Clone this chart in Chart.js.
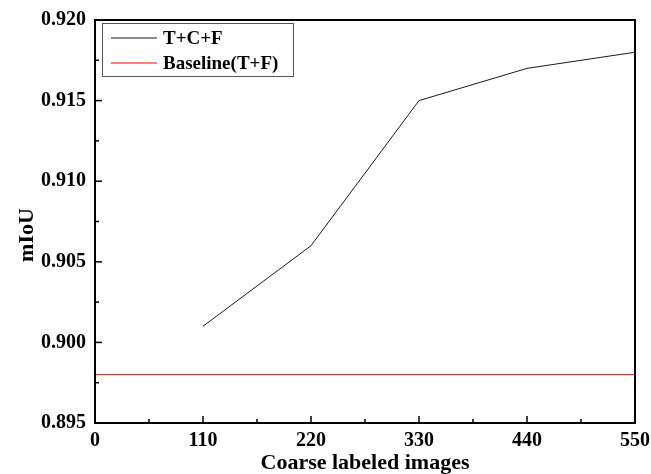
<!DOCTYPE html>
<html><head><meta charset="utf-8">
<script src="https://cdn.jsdelivr.net/npm/chart.js@4/dist/chart.umd.min.js"></script>
<style>html,body{margin:0;padding:0;background:#fff}#wrap{width:651px;height:474px}</style>
</head><body><div id="wrap"><canvas id="c" width="651" height="474"></canvas></div>
<script>
const xValues = [110, 220, 330, 440, 550];
const tcfValues = [0.901, 0.906, 0.915, 0.917, 0.918];
const baselineX = [0, 550];
const baselineValues = [0.898, 0.898];
const seriesNames = ['T+C+F', 'Baseline(T+F)'];
const xTitle = 'Coarse labeled images';
const yTitle = 'mIoU';

const FONT = '"Liberation Serif", "Times New Roman", serif';

const framePlugin = {
  id: 'frame',
  afterDatasetsDraw(chart) {
    const {ctx, chartArea: a, scales} = chart;
    ctx.save();
    ctx.strokeStyle = '#000';
    ctx.lineWidth = 1.5;
    const xs = scales.x, ys = scales.y;
    xs.ticks.forEach((t, i) => {
      const px = xs.getPixelForValue(t.value);
      ctx.beginPath(); ctx.moveTo(px, a.bottom); ctx.lineTo(px, a.bottom - 7); ctx.stroke();
      if (i < xs.ticks.length - 1) {
        const mv = (t.value + xs.ticks[i + 1].value) / 2;
        const mx = xs.getPixelForValue(mv);
        ctx.beginPath(); ctx.moveTo(mx, a.bottom); ctx.lineTo(mx, a.bottom - 4); ctx.stroke();
      }
    });
    ys.ticks.forEach((t, i) => {
      const py = ys.getPixelForValue(t.value);
      ctx.beginPath(); ctx.moveTo(a.left, py); ctx.lineTo(a.left + 7, py); ctx.stroke();
      if (i < ys.ticks.length - 1) {
        const mv = (t.value + ys.ticks[i + 1].value) / 2;
        const my = ys.getPixelForValue(mv);
        ctx.beginPath(); ctx.moveTo(a.left, my); ctx.lineTo(a.left + 4, my); ctx.stroke();
      }
    });
    ctx.lineWidth = 2;
    ctx.strokeRect(a.left, a.top, a.right - a.left, a.bottom - a.top);
    // y title
    ctx.save();
    ctx.translate(27, 235);
    ctx.rotate(-Math.PI / 2);
    ctx.font = 'bold 22px ' + FONT;
    ctx.textAlign = 'center';
    ctx.textBaseline = 'middle';
    ctx.fillStyle = '#000';
    ctx.fillText(yTitle, 0, 0);
    ctx.restore();
    // legend
    const lx = 102, ly = 23, lw = 191, lh = 53;
    ctx.fillStyle = '#fff';
    ctx.fillRect(lx, ly, lw, lh);
    ctx.lineWidth = 1;
    ctx.strokeStyle = '#555';
    ctx.strokeRect(lx + 0.5, ly + 0.5, lw, lh);
    ctx.font = 'bold 19px ' + FONT;
    ctx.textBaseline = 'middle';
    ctx.fillStyle = '#000';
    chart.data.datasets.forEach((ds, i) => {
      const yy = ly + 15 + i * 25;
      ctx.strokeStyle = ds.borderColor;
      ctx.lineWidth = 1;
      ctx.beginPath(); ctx.moveTo(lx + 9, yy); ctx.lineTo(lx + 55, yy); ctx.stroke();
      ctx.fillText(ds.label, lx + 61, yy + 1);
    });
    ctx.restore();
  }
};

new Chart(document.getElementById('c'), {
  type: 'scatter',
  data: {
    datasets: [
      {
        label: seriesNames[0],
        data: xValues.map((x, i) => ({x, y: tcfValues[i]})),
        showLine: true, borderColor: '#1a1a1a', borderWidth: 1, pointRadius: 0, tension: 0
      },
      {
        label: seriesNames[1],
        data: baselineX.map((x, i) => ({x, y: baselineValues[i]})),
        showLine: true, borderColor: '#ff0000', borderWidth: 1, pointRadius: 0
      }
    ]
  },
  options: {
    responsive: false,
    animation: false,
    layout: {padding: {top: 20, right: 16, left: 0, bottom: 0}},
    plugins: {legend: {display: false}, tooltip: {enabled: false}},
    scales: {
      x: {
        type: 'linear', min: 0, max: 550,
        afterFit(s) { s.height = 51; s.paddingLeft = 0; s.paddingRight = 0; },
        grid: {display: false, drawTicks: false},
        border: {display: false},
        ticks: {stepSize: 110, padding: 6, color: '#000', font: {family: FONT, weight: 'bold', size: 20}},
        title: {display: true, text: xTitle, color: '#000', padding: {top: 0, bottom: 0}, font: {family: FONT, weight: 'bold', size: 22, lineHeight: 1}}
      },
      y: {
        type: 'linear', min: 0.895, max: 0.920,
        afterFit(s) { s.width = 95; s.paddingTop = 0; s.paddingBottom = 0; },
        grid: {display: false, drawTicks: false},
        border: {display: false},
        ticks: {stepSize: 0.005, padding: 9, color: '#000', font: {family: FONT, weight: 'bold', size: 20},
          callback: v => Number(v).toFixed(3)},
        title: {display: false}
      }
    }
  },
  plugins: [framePlugin]
});
</script></body></html>
